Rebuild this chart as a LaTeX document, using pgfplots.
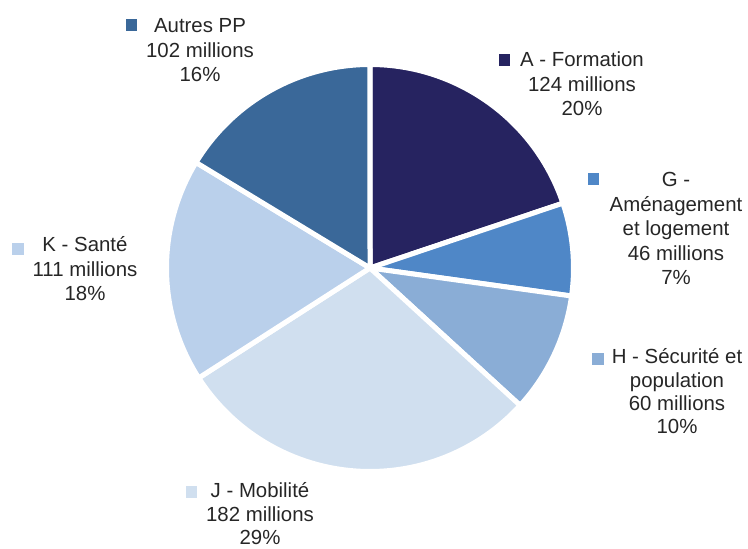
\documentclass[border=0pt]{standalone}
\usepackage{pgfplots}
\pgfplotsset{compat=1.18}
\usepackage{pgfplotstable}
\usepackage{fontspec}
\setmainfont{Liberation Sans}

\definecolor{cA}{HTML}{262360}
\definecolor{cG}{HTML}{4F87C7}
\definecolor{cH}{HTML}{8AADD6}
\definecolor{cJ}{HTML}{D0DFEF}
\definecolor{cK}{HTML}{BAD0EB}
\definecolor{cAu}{HTML}{3A6899}
\definecolor{txt}{HTML}{262626}

% budget par politique publique (millions)
\pgfplotstableread{
name value col
A 124 cA
G 46 cG
H 60 cH
J 182 cJ
K 111 cK
Autres 102 cAu
}\piedata

\begin{document}
\begin{tikzpicture}[lab/.style={font=\fontsize{20.4}{24}\selectfont, text=txt, anchor=base, inner sep=0pt}]
\begin{axis}[
    width=748pt, height=549pt,
    scale only axis,
    xmin=0, xmax=748, ymin=0, ymax=549,
    hide axis,
    clip=false,
]
% slices, clockwise from 12 o'clock, white borders
\pgfplotsextra{
  \pgfplotstablegetrowsof{\piedata}
  \pgfmathtruncatemacro\nrows{\pgfplotsretval-1}
  \gdef\total{0}
  \pgfplotsforeachungrouped \i in {0,...,\nrows}{
    \pgfplotstablegetelem{\i}{value}\of\piedata
    \pgfmathsetmacro\t{\total+\pgfplotsretval}
    \global\let\total\t
  }
  \gdef\angstart{90}
  \pgfplotsforeachungrouped \i in {0,...,\nrows}{
    \pgfplotstablegetelem{\i}{value}\of\piedata \let\v\pgfplotsretval
    \pgfplotstablegetelem{\i}{col}\of\piedata \let\c\pgfplotsretval
    \pgfmathsetmacro\angend{\angstart-\v/\total*360}
    \filldraw[fill=\c, draw=white, line width=5pt, line join=round]
      (axis cs:370,281) -- ++(\angstart:203.5pt)
      arc[start angle=\angstart, end angle=\angend, radius=203.5pt] -- cycle;
    \global\let\angstart\angend
  }
}

% legend keys
\addplot[only marks, mark=square*, mark size=5.3pt, color=cAu] coordinates {(131,524)};
\addplot[only marks, mark=square*, mark size=5.3pt, color=cA] coordinates {(504,489.5)};
\addplot[only marks, mark=square*, mark size=5.3pt, color=cG] coordinates {(593,370.5)};
\addplot[only marks, mark=square*, mark size=5.3pt, color=cH] coordinates {(597.5,190)};
\addplot[only marks, mark=square*, mark size=5.3pt, color=cJ] coordinates {(191,57)};
\addplot[only marks, mark=square*, mark size=5.3pt, color=cK] coordinates {(17.5,300.5)};

% labels
\node[lab] at (axis cs:200,516) {Autres PP};
\node[lab] at (axis cs:200,491) {102 millions};
\node[lab] at (axis cs:200,467) {16\%};

\node[lab] at (axis cs:582,482) {A - Formation};
\node[lab] at (axis cs:582,457) {124 millions};
\node[lab] at (axis cs:582,433) {20\%};

\node[lab] at (axis cs:676,362) {G -};
\node[lab] at (axis cs:676,337) {Aménagement};
\node[lab] at (axis cs:676,313) {et logement};
\node[lab] at (axis cs:676,288) {46 millions};
\node[lab] at (axis cs:676,264) {7\%};

\node[lab] at (axis cs:677,185) {H - Sécurité et};
\node[lab] at (axis cs:677,161) {population};
\node[lab] at (axis cs:677,138) {60 millions};
\node[lab] at (axis cs:677,115) {10\%};

\node[lab] at (axis cs:260,51) {J - Mobilité};
\node[lab] at (axis cs:260,27) {182 millions};
\node[lab] at (axis cs:260,4) {29\%};

\node[lab] at (axis cs:85,297) {K - Santé};
\node[lab] at (axis cs:85,272) {111 millions};
\node[lab] at (axis cs:85,248) {18\%};
\end{axis}
\pgfresetboundingbox
\path[use as bounding box] (current axis.south west) rectangle (current axis.north east);
\end{tikzpicture}
\end{document}
